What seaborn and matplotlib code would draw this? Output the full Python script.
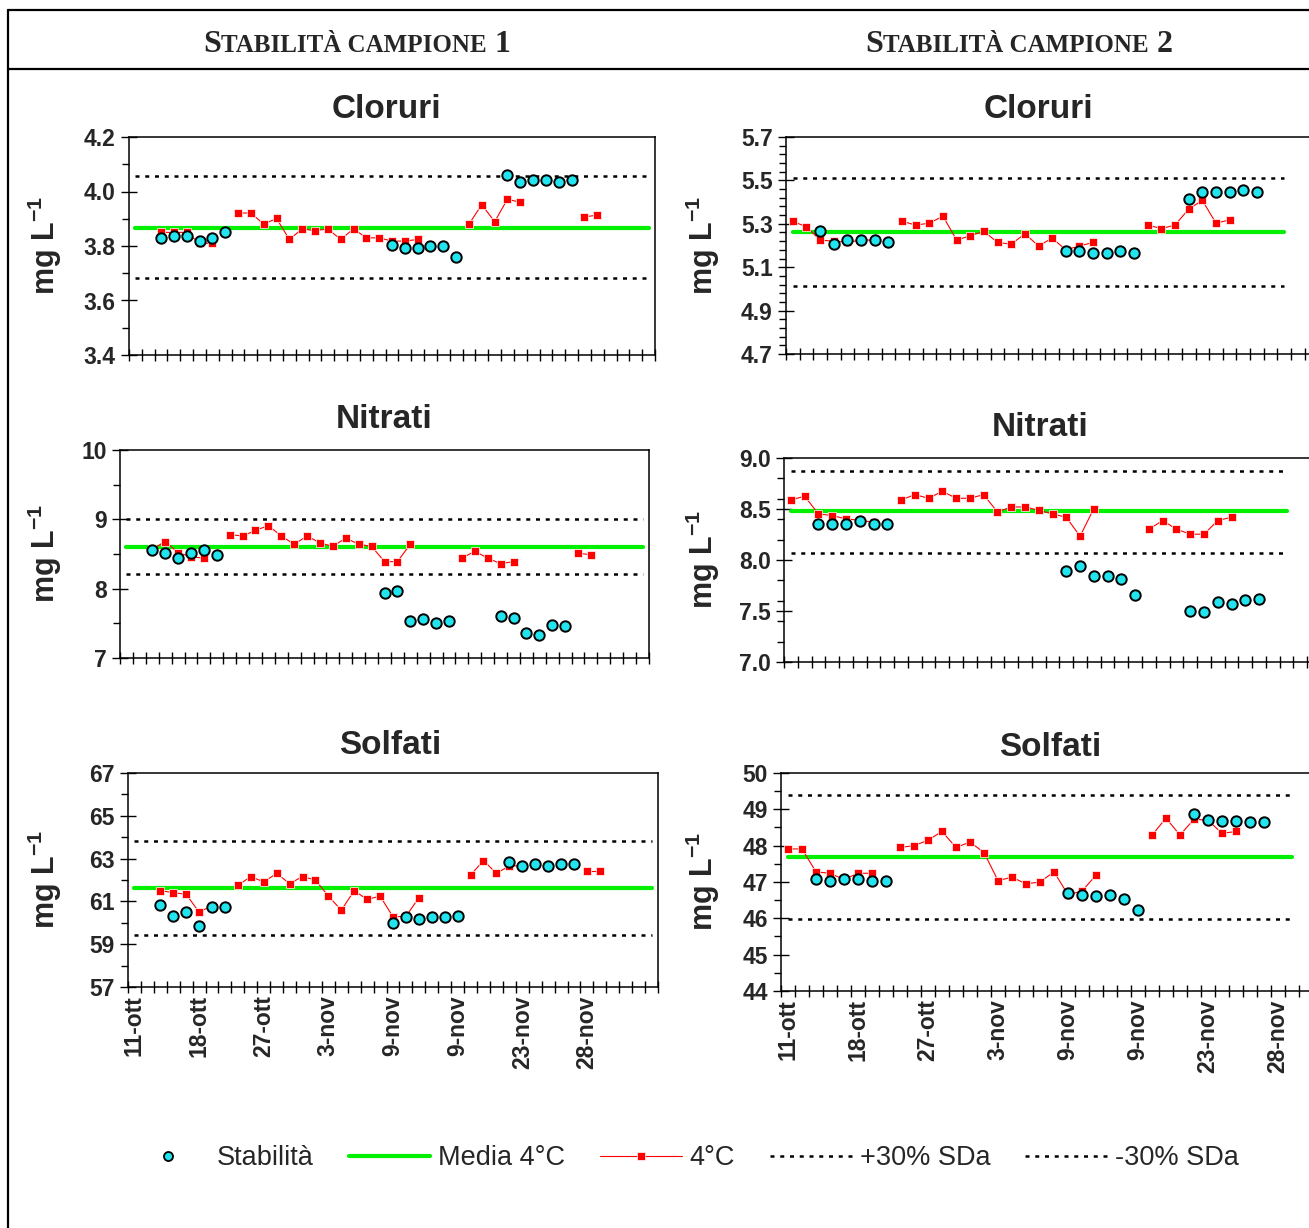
import numpy as np
import pandas as pd
import matplotlib
matplotlib.use("Agg")
import matplotlib.pyplot as plt
import seaborn as sns
from matplotlib.ticker import FixedLocator, FixedFormatter, FormatStrFormatter
from matplotlib.lines import Line2D

sns.set_style("white")
plt.rcParams["font.family"] = ["Liberation Sans", "DejaVu Sans"]
plt.rcParams["font.weight"] = "bold"
plt.rcParams["mathtext.fontset"] = "custom"
plt.rcParams["mathtext.rm"] = "Liberation Sans:bold"
plt.rcParams["mathtext.it"] = "Liberation Sans:bold"
plt.rcParams["mathtext.bf"] = "Liberation Sans:bold"
plt.rcParams["mathtext.sf"] = "Liberation Sans:bold"
plt.rcParams["mathtext.default"] = "rm"

# ---------------- data ----------------
N_CAT = 41
DATE_LABELS = ["11-ott", "18-ott", "27-ott", "3-nov", "9-nov", "9-nov", "23-nov", "28-nov"]
DATE_LABEL_CATS = [0, 5, 10, 15, 20, 25, 30, 35]

STAB_CATS = [2, 3, 4, 5, 6, 7, 20, 21, 22, 23, 24, 25, 29, 30, 31, 32, 33, 34]

RED_CATS_1 = [2, 3, 4, 5, 6, 8, 9, 10, 11, 12, 13, 14, 15, 16, 17, 18, 19, 20, 21, 22,
              26, 27, 28, 29, 30, 35, 36]
RED_SEG_1 = [0, 0, 0, 0, 0, 1, 1, 1, 1, 1, 1, 1, 1, 1, 1, 1, 1, 1, 1, 1,
             2, 2, 2, 2, 2, 3, 3]
RED_CATS_2 = [0, 1, 2, 3, 4, 5, 6, 8, 9, 10, 11, 12, 13, 14, 15, 16, 17, 18, 19, 20, 21, 22,
              26, 27, 28, 29, 30, 31, 32]
RED_SEG_2 = [0, 0, 0, 0, 0, 0, 0, 1, 1, 1, 1, 1, 1, 1, 1, 1, 1, 1, 1, 1, 1, 1,
             2, 2, 2, 2, 2, 2, 2]
REF_COUNT_1 = 41   # reference lines span categories of sample 1
REF_COUNT_2 = 37   # reference lines span categories of sample 2

# Campione 1 - Cloruri
CLO1_STAB = [3.829, 3.836, 3.836, 3.818, 3.830, 3.850, 3.805, 3.791, 3.791, 3.799, 3.799, 3.761,
             4.062, 4.034, 4.041, 4.041, 4.035, 4.041]
CLO1_4C = [3.850, 3.850, 3.850, 3.810, 3.810, 3.921, 3.921, 3.880, 3.901, 3.824, 3.863, 3.856,
           3.863, 3.824, 3.863, 3.830, 3.830, 3.818, 3.818, 3.824, 3.880, 3.952, 3.889, 3.972,
           3.960, 3.907, 3.913]
CLO1_REF = [3.866, 4.056, 3.683]  # media, +30%, -30%

# Campione 1 - Nitrati
NIT1_STAB = [8.56, 8.51, 8.44, 8.51, 8.56, 8.49, 7.94, 7.96, 7.54, 7.56, 7.51, 7.54,
             7.61, 7.58, 7.36, 7.33, 7.48, 7.46]
NIT1_4C = [8.57, 8.68, 8.52, 8.46, 8.44, 8.78, 8.76, 8.84, 8.91, 8.76, 8.64, 8.76, 8.66, 8.61,
           8.73, 8.64, 8.61, 8.39, 8.39, 8.64, 8.44, 8.54, 8.44, 8.36, 8.39, 8.51, 8.49]
NIT1_REF = [8.60, 9.01, 8.21]

# Campione 1 - Solfati
SOL1_STAB = [60.84, 60.34, 60.50, 59.86, 60.75, 60.75, 60.00, 60.28, 60.17, 60.28, 60.28, 60.34,
             62.84, 62.66, 62.73, 62.66, 62.73, 62.73]
SOL1_4C = [61.50, 61.41, 61.33, 60.50, 60.80, 61.75, 62.16, 61.91, 62.31, 61.83, 62.16, 62.00,
           61.25, 60.59, 61.50, 61.09, 61.25, 60.28, 60.30, 61.17, 62.23, 62.91, 62.31, 62.66,
           62.66, 62.41, 62.41]
SOL1_REF = [61.64, 63.84, 59.44]

# Campione 2 - Cloruri
CLO2_STAB = [5.265, 5.206, 5.226, 5.226, 5.226, 5.214, 5.175, 5.175, 5.166, 5.166, 5.175, 5.166,
             5.415, 5.448, 5.448, 5.448, 5.454, 5.448]
CLO2_4C = [5.311, 5.286, 5.225, 5.220, 5.215, 5.225, 5.225, 5.312, 5.294, 5.303, 5.335, 5.225,
           5.245, 5.265, 5.214, 5.206, 5.254, 5.198, 5.234, 5.180, 5.198, 5.214, 5.294, 5.278,
           5.294, 5.368, 5.408, 5.303, 5.318]
CLO2_REF = [5.26, 5.511, 5.015]

# Campione 2 - Nitrati
NIT2_STAB = [8.354, 8.354, 8.354, 8.387, 8.354, 8.354, 7.894, 7.946, 7.845, 7.845, 7.812, 7.656,
             7.502, 7.486, 7.587, 7.571, 7.604, 7.620]
NIT2_4C = [8.589, 8.625, 8.452, 8.436, 8.403, 8.390, 8.370, 8.589, 8.641, 8.605, 8.674, 8.605,
           8.605, 8.641, 8.471, 8.520, 8.520, 8.488, 8.452, 8.419, 8.233, 8.504, 8.302, 8.387,
           8.302, 8.253, 8.253, 8.387, 8.419]
NIT2_REF = [8.48, 8.876, 8.073]

# Campione 2 - Solfati
SOL2_STAB = [47.09, 47.04, 47.09, 47.09, 47.04, 47.04, 46.70, 46.65, 46.61, 46.65, 46.52, 46.22,
             48.88, 48.72, 48.67, 48.67, 48.64, 48.64]
SOL2_4C = [47.91, 47.91, 47.28, 47.24, 47.07, 47.24, 47.24, 47.95, 48.00, 48.15, 48.39, 47.95,
           48.10, 47.81, 47.04, 47.13, 46.95, 47.00, 47.28, 46.65, 46.75, 47.19, 48.29, 48.76,
           48.29, 48.73, 48.70, 48.34, 48.39]
SOL2_REF = [47.70, 49.40, 45.99]

# ---------------- style ----------------
CYAN = "#22E4EE"
GREEN = "#00F000"
RED = "#FF0000"
DOT = (0, (1.6, 2.3))
TICK_FS = 16.5

W, H = 1309, 1228
fig = plt.figure(figsize=(W / 100, H / 100), dpi=100)


def px_axes(l, t, r, b):
    return fig.add_axes([l / W, 1 - b / H, (r - l) / W, (b - t) / H])


def ticks_between(lo, hi, step):
    n = int(round((hi - lo) / step))
    return [lo + i * step for i in range(n + 1)]


def panel(box, title, title_xy, stab, red, red_cats, red_seg, ref, ref_count,
          ylim, major, minor, fmt, ylabel_right_px, show_dates):
    l, t, r, b = box
    ax = px_axes(l, t, r, b)
    ref_df = pd.DataFrame({"x": np.arange(ref_count),
                           "media": np.repeat(ref[0], ref_count),
                           "up": np.repeat(ref[1], ref_count),
                           "lo": np.repeat(ref[2], ref_count)})
    for col in ("up", "lo"):
        sns.lineplot(data=ref_df, x="x", y=col, ax=ax, color="black", lw=1.8,
                     linestyle=DOT, errorbar=None, zorder=2)
    sns.lineplot(data=ref_df, x="x", y="media", ax=ax, color=GREEN, lw=3.0,
                 errorbar=None, zorder=3)
    red_df = pd.DataFrame({"x": red_cats, "v": red, "seg": red_seg})
    sns.lineplot(data=red_df, x="x", y="v", units="seg", estimator=None, ax=ax,
                 color=RED, lw=0.8, marker="s", markersize=5.8,
                 markeredgecolor="white", markeredgewidth=0.5, zorder=4, legend=False)
    sns.scatterplot(x=STAB_CATS, y=stab, ax=ax, s=56, color=CYAN, edgecolor="black",
                    linewidth=1.4, zorder=5, legend=False)

    ax.set_xlim(-0.5, N_CAT - 0.5)
    ax.set_ylim(*ylim)
    ax.set_xlabel("")
    ax.xaxis.set_major_locator(FixedLocator(np.arange(-0.5, N_CAT, 1.0)))
    ax.xaxis.set_major_formatter(FixedFormatter([""] * (N_CAT + 1)))
    ax.tick_params(axis="x", which="major", direction="inout", length=8, width=1,
                   color="black", bottom=True, labelbottom=False)
    if show_dates:
        ax.xaxis.set_minor_locator(FixedLocator(DATE_LABEL_CATS))
        ax.xaxis.set_minor_formatter(FixedFormatter(DATE_LABELS))
        ax.tick_params(axis="x", which="minor", length=0, labelsize=TICK_FS,
                       labelrotation=90, pad=6)
    ax.yaxis.set_major_locator(FixedLocator(ticks_between(ylim[0], ylim[1], major)))
    ax.yaxis.set_minor_locator(FixedLocator(ticks_between(ylim[0], ylim[1], minor)))
    ax.yaxis.set_major_formatter(FormatStrFormatter(fmt))
    ax.tick_params(axis="y", which="major", direction="inout", length=11, width=1,
                   color="black", left=True, labelsize=TICK_FS, pad=4)
    ax.tick_params(axis="y", which="minor", direction="out", length=5, width=1,
                   color="black", left=True)
    for sp in ax.spines.values():
        sp.set_visible(True)
        sp.set_color("black")
        sp.set_linewidth(1.1)
    ax.set_ylabel("mg L$^{-1}$", fontsize=22, fontweight="bold")
    ax.yaxis.set_label_coords((ylabel_right_px - l) / (r - l), 0.5)
    fig.text(title_xy[0] / W, 1 - title_xy[1] / H, title, ha="center", va="center",
             fontsize=24, fontweight="bold")
    return ax


panel((129, 137, 655, 355), "Cloruri", (386, 109), CLO1_STAB, CLO1_4C, RED_CATS_1, RED_SEG_1,
      CLO1_REF, REF_COUNT_1, (3.4, 4.2), 0.2, 0.1, "%.1f", 64, False)
panel((120, 450, 649, 658), "Nitrati", (384, 420), NIT1_STAB, NIT1_4C, RED_CATS_1, RED_SEG_1,
      NIT1_REF, REF_COUNT_1, (7, 10), 1, 0.5, "%d", 64, False)
panel((128, 773, 658, 987), "Solfati", (390, 746), SOL1_STAB, SOL1_4C, RED_CATS_1, RED_SEG_1,
      SOL1_REF, REF_COUNT_1, (57, 67), 2, 1, "%d", 64, True)
panel((786, 137, 786 + 41 * 13.65, 354), "Cloruri", (1038, 109), CLO2_STAB, CLO2_4C, RED_CATS_2,
      RED_SEG_2, CLO2_REF, REF_COUNT_2, (4.7, 5.7), 0.2, 0.04, "%.1f", 722, False)
panel((784, 458, 784 + 41 * 13.77, 662), "Nitrati", (1040, 427), NIT2_STAB, NIT2_4C, RED_CATS_2,
      RED_SEG_2, NIT2_REF, REF_COUNT_2, (7.0, 9.0), 0.5, 0.2, "%.1f", 722, False)
panel((781, 773, 781 + 41 * 14.0, 991), "Solfati", (1050, 747), SOL2_STAB, SOL2_4C, RED_CATS_2,
      RED_SEG_2, SOL2_REF, REF_COUNT_2, (44, 50), 1, 0.5, "%d", 722, True)

# ---------------- frame & header ----------------
for (x0, y0, x1, y1) in [(8, 10, W, 10), (8, 69, W, 69), (8, 10, 8, H)]:
    fig.add_artist(Line2D([x0 / W, x1 / W], [1 - y0 / H, 1 - y1 / H],
                          transform=fig.transFigure, color="black", lw=1.6))

renderer = fig.canvas.get_renderer()


def small_caps(xc, baseline_px, pieces):
    texts, widths = [], []
    for s, size in pieces:
        tx = fig.text(0, 0, s, fontsize=size, family="Liberation Serif",
                      fontweight="bold", va="baseline", ha="left")
        widths.append(tx.get_window_extent(renderer).width)
        texts.append(tx)
    x = xc - sum(widths) / 2
    for tx, w in zip(texts, widths):
        tx.set_position((x / W, 1 - baseline_px / H))
        x += w


BIG, SMALL = 23, 18
small_caps(357, 52, [("S", BIG), ("TABILITÀ CAMPIONE", SMALL), (" 1", BIG)])
small_caps(1019, 52, [("S", BIG), ("TABILITÀ CAMPIONE", SMALL), (" 2", BIG)])

# ---------------- legend ----------------
handles = [
    Line2D([], [], ls="none", marker="o", ms=6.5, mfc=CYAN, mec="black", mew=1.3),
    Line2D([], [], color=GREEN, lw=3),
    Line2D([], [], color=RED, lw=0.8, marker="s", ms=5.8, mec="white", mew=0.5),
    Line2D([], [], color="black", lw=1.8, ls=DOT),
    Line2D([], [], color="black", lw=1.8, ls=DOT),
]
labels = ["Stabilità", "Media 4°C", "4°C", "+30% SDa", "-30% SDa"]
fig.legend(handles, labels, loc="center", bbox_to_anchor=(683 / W, 1 - 1158 / H), ncol=5,
           frameon=False, prop={"size": 19.5, "weight": "normal"}, handlelength=3.0,
           handletextpad=0.3, columnspacing=1.3, numpoints=1)

fig.savefig("out.png", dpi=100)
